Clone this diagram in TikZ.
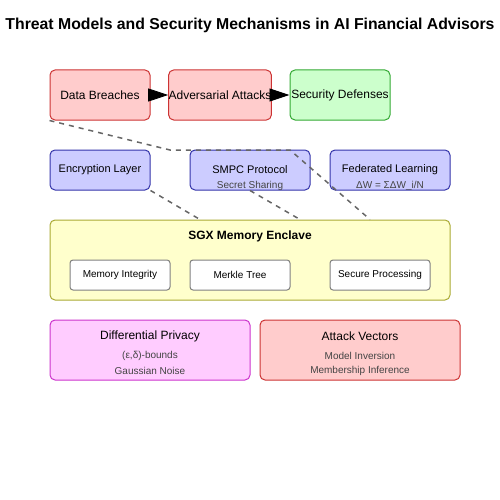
\documentclass[tikz,border=0pt]{standalone}
\usepackage{fontspec}
\setmainfont{Liberation Sans}
\usetikzlibrary{arrows.meta}
\definecolor{redfill}{HTML}{FFCCCC}
\definecolor{redline}{HTML}{CC3333}
\definecolor{greenfill}{HTML}{CCFFCC}
\definecolor{greenline}{HTML}{33AA33}
\definecolor{bluefill}{HTML}{CCCCFF}
\definecolor{blueline}{HTML}{3333AA}
\definecolor{yellowfill}{HTML}{FFFFCC}
\definecolor{yellowline}{HTML}{AAAA33}
\definecolor{pinkfill}{HTML}{FFCCFF}
\definecolor{pinkline}{HTML}{CC33CC}
\definecolor{subtext}{HTML}{444444}
\definecolor{linkgray}{HTML}{666666}
\begin{document}
\begin{tikzpicture}[x=1pt,y=-1pt,
	box/.style={draw, line width=1pt, rounded corners=5pt, inner sep=0pt, font=\fontsize{12}{14}\selectfont},
	threat/.style={box, fill=redfill, draw=redline},
	defense/.style={box, fill=greenfill, draw=greenline},
	layer/.style={box, fill=bluefill, draw=blueline, font=\fontsize{11}{13}\selectfont},
	inner/.style={box, fill=white, draw=gray, rounded corners=3pt, font=\fontsize{10}{12}\selectfont},
	small/.style={font=\fontsize{10}{12}\selectfont, text=subtext},
	link/.style={draw=linkgray, line width=1.5pt, dash pattern=on 5pt off 5pt}]
	\useasboundingbox (0,0) rectangle (500,500);
	\node[font=\fontsize{15.8}{19}\bfseries] (title) at (250,25) {Threat Models and Security Mechanisms in AI Financial Advisors};
	% threats
	\node[threat, minimum width=100pt, minimum height=50pt] (breach) at (100,95) {Data Breaches};
	\node[threat, minimum width=100pt, minimum height=50pt] (adv) at (220,95) {Adversarial Attacks};
	\node[defense, minimum width=100pt, minimum height=50pt] (def) at (340,95) {Security Defenses};
	\draw[-{Triangle[length=20pt,width=13pt]}, thick] (breach.east) -- (adv.west);
	\draw[-{Triangle[length=20pt,width=13pt]}, thick] (adv.east) -- (def.west);
	% layers
	\node[layer, minimum width=100pt, minimum height=40pt] (enc) at (100,170) {Encryption Layer};
	\node[layer, minimum width=120pt, minimum height=40pt] (smpc) at (250,170) {};
	\node at (250,170) {\fontsize{11}{13}\selectfont SMPC Protocol};
	\node[small] at (250,186) {Secret Sharing};
	\node[layer, minimum width=120pt, minimum height=40pt] (fed) at (390,170) {};
	\node at (390,170) {\fontsize{11}{13}\selectfont Federated Learning};
	\node[small] at (390,186) {ΔW = ΣΔW\_i/N};
	% enclave
	\node[box, fill=yellowfill, draw=yellowline, minimum width=400pt, minimum height=80pt] (sgx) at (250,260) {};
	\node[font=\fontsize{12}{14}\bfseries] at (250,236) {SGX Memory Enclave};
	\node[inner, minimum width=100pt, minimum height=30pt] (mem) at (120,275) {Memory Integrity};
	\node[inner, minimum width=100pt, minimum height=30pt] (merkle) at (240,275) {Merkle Tree};
	\node[inner, minimum width=100pt, minimum height=30pt] (proc) at (380,275) {Secure Processing};
	% bottom
	\node[box, fill=pinkfill, draw=pinkline, minimum width=200pt, minimum height=60pt] (dp) at (150,350) {};
	\node at (150,336) {\fontsize{12}{14}\selectfont Differential Privacy};
	\node[small] at (150,356) {(ε,δ)-bounds};
	\node[small] at (150,371) {Gaussian Noise};
	\node[threat, minimum width=200pt, minimum height=60pt] (atk) at (360,350) {};
	\node at (360,336) {\fontsize{12}{14}\selectfont Attack Vectors};
	\node[small] at (360,356) {Model Inversion};
	\node[small] at (360,371) {Membership Inference};
	% dashed links
	\coordinate (bend1) at (170,150);
	\coordinate (bend2) at (290,150);
	\draw[link] (breach.south west) -- (bend1) -- (bend2) -- (sgx.north west -| 370,0);
	\draw[link] (enc.south east) -- (sgx.north west -| 200,0);
	\draw[link] (smpc.south) -- (sgx.north west -| 300,0);
\end{tikzpicture}
\end{document}
